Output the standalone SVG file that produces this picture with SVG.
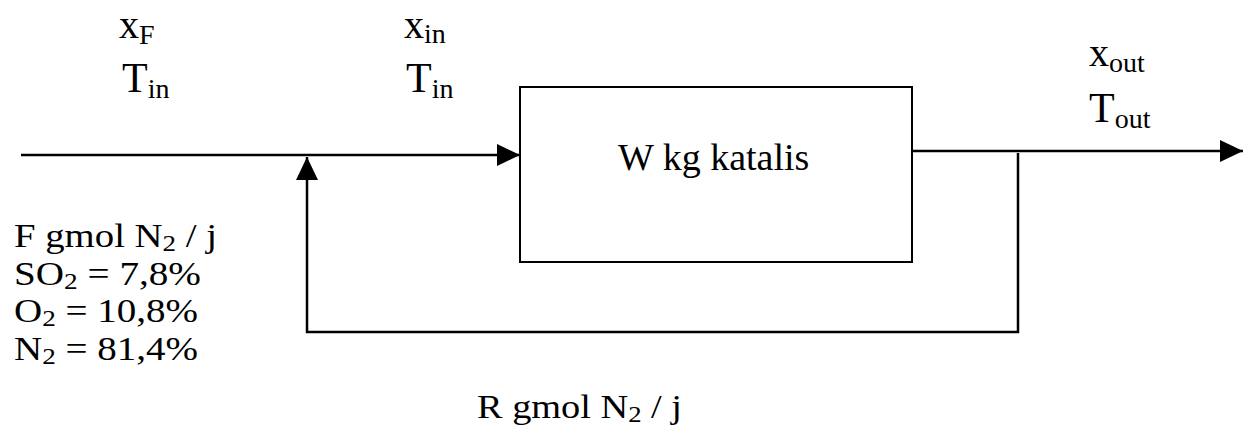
<svg xmlns="http://www.w3.org/2000/svg" width="1250" height="433" viewBox="0 0 1250 433">
<defs>
<style>
.lab{font-size:42px}
.xl{font-size:40px}
.sub{font-size:28px}
.blk{font-size:33px}
.bsub{font-size:23px}
.ln{fill:none;stroke:#000;stroke-width:2.5}
</style>
<marker id="ah" markerUnits="userSpaceOnUse" markerWidth="24" markerHeight="24" viewBox="0 0 24 24" refX="23" refY="12" orient="auto">
<path d="M0,1 L23,12 L0,23 Z" fill="#000"/>
</marker>
</defs>
<rect width="1250" height="433" fill="#fff"/>
<g id="connectors">
<path class="ln" d="M21,155 H520" marker-end="url(#ah)"/>
<path class="ln" d="M912,151 H1243" marker-end="url(#ah)"/>
<path class="ln" d="M1018,153 V332 H307 V157" marker-end="url(#ah)"/>
</g>
<g font-family="Liberation Serif, Times New Roman, DejaVu Serif, serif" fill="#000">
<g id="reactor">
<rect x="520" y="87" width="392" height="175" fill="#fff" stroke="#000" stroke-width="2"/>
<text x="618" y="170" font-size="38">W kg katalis</text>
</g>
<g id="feed-label">
<text class="xl" x="119" y="38">x<tspan class="sub" dy="6">F</tspan></text>
<text class="lab" x="122" y="92">T<tspan class="sub" dy="6">in</tspan></text>
</g>
<g id="inlet-label">
<text class="xl" x="404" y="38">x<tspan class="sub" dy="5">in</tspan></text>
<text class="lab" x="406" y="92">T<tspan class="sub" dy="6">in</tspan></text>
</g>
<g id="outlet-label">
<text class="xl" x="1089" y="66">x<tspan class="sub" dy="6">out</tspan></text>
<text class="lab" x="1089" y="122">T<tspan class="sub" dy="6">out</tspan></text>
</g>
<g id="feed-composition">
<text class="blk" x="14" y="247" textLength="203" lengthAdjust="spacingAndGlyphs">F gmol N<tspan class="bsub" dy="4">2</tspan><tspan dy="-4"> / j</tspan></text>
<text class="blk" x="14" y="285" textLength="187" lengthAdjust="spacingAndGlyphs">SO<tspan class="bsub" dy="4">2</tspan><tspan dy="-4"> = 7,8%</tspan></text>
<text class="blk" x="14" y="322" textLength="184" lengthAdjust="spacingAndGlyphs">O<tspan class="bsub" dy="4">2</tspan><tspan dy="-4"> = 10,8%</tspan></text>
<text class="blk" x="14" y="360" textLength="184" lengthAdjust="spacingAndGlyphs">N<tspan class="bsub" dy="4">2</tspan><tspan dy="-4"> = 81,4%</tspan></text>
</g>
<g id="recycle-label">
<text class="blk" x="477" y="418" textLength="205" lengthAdjust="spacingAndGlyphs">R gmol N<tspan class="bsub" dy="4">2</tspan><tspan dy="-4"> / j</tspan></text>
</g>
</g>
</svg>
